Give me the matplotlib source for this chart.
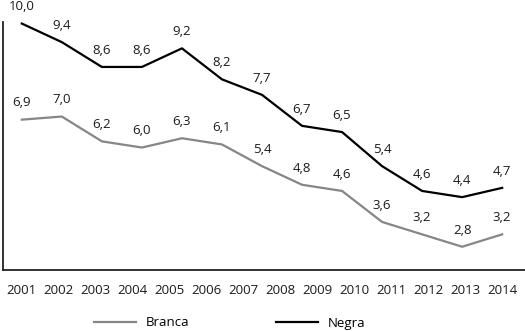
import numpy as np
import matplotlib.pyplot as plt

plt.rcParams['font.family'] = ['Open Sans', 'DejaVu Sans']

years = ['2001', '2002', '2003', '2004', '2005', '2006', '2007',
         '2008', '2009', '2010', '2011', '2012', '2013', '2014']
branca = [6.9, 7.0, 6.2, 6.0, 6.3, 6.1, 5.4, 4.8, 4.6, 3.6, 3.2, 2.8, 3.2]
negra = [10.0, 9.4, 8.6, 8.6, 9.2, 8.2, 7.7, 6.7, 6.5, 5.4, 4.6, 4.4, 4.7]

fig = plt.figure(figsize=(5.25, 3.31), dpi=100)
ax = fig.add_axes([3 / 525, 1 - 270 / 331, 1 - 3 / 525, 248 / 331])

x = np.arange(len(negra))
ax.plot(x, branca, color='#868686', lw=1.6, label='Branca')
ax.plot(x, negra, color='black', lw=1.6, label='Negra')

def fmt(v):
    return ('%.1f' % v).replace('.', ',')

for xi, v in zip(x, branca):
    ax.annotate(fmt(v), (xi, v), xytext=(0, 12), textcoords='offset points',
                ha='center', va='center', fontsize=9.5, color='#1a1a1a')
for xi, v in zip(x, negra):
    ax.annotate(fmt(v), (xi, v), xytext=(0, 12), textcoords='offset points',
                ha='center', va='center', fontsize=9.5, color='#1a1a1a')

ax.set_xlim(-0.47, 12.57)
ax.set_ylim(2.05, 10.05)
ax.set_xticks(np.linspace(0, len(negra) - 1, len(years)))
ax.set_xticklabels(years, fontsize=9.5, color='#1a1a1a')
ax.set_yticks([])
ax.tick_params(axis='x', length=0, pad=10)
for s in ['top', 'right']:
    ax.spines[s].set_visible(False)
for s in ['left', 'bottom']:
    ax.spines[s].set_linewidth(1.3)
    ax.spines[s].set_color('#222222')

leg = fig.legend(loc='center', bbox_to_anchor=(0.437, 1 - 323 / 331), ncol=2,
                 frameon=False, fontsize=9.5, handlelength=3.2,
                 handletextpad=0.7, columnspacing=6.6)

fig.savefig('out.png', dpi=100)
